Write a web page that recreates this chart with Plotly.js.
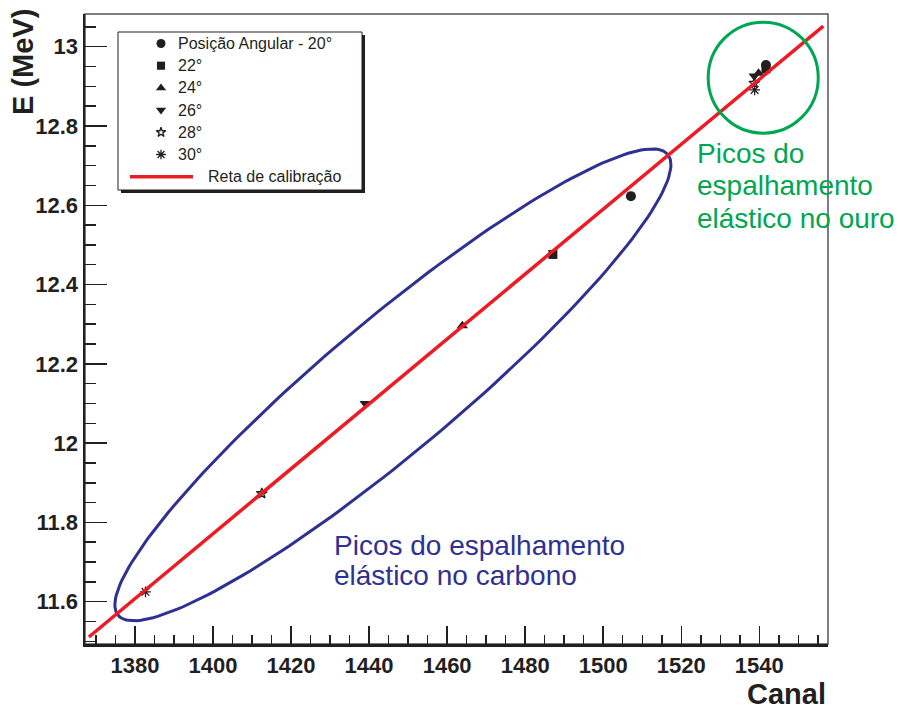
<!DOCTYPE html>
<html>
<head>
<meta charset="utf-8">
<script src="https://cdn.plot.ly/plotly-3.0.1.min.js"></script>
<style>html,body{margin:0;padding:0;background:#fff;}#chart{width:898px;height:709px;}</style>
</head>
<body>
<div id="chart"></div>
<script>
// ---- data ----
const seriesNames = ["Posição Angular - 20°", "22°", "24°", "26°", "28°", "30°"];
const seriesSymbols = ["circle", "square", "triangle-up", "triangle-down", "star-open", "asterisk-open"];
const seriesSizes = [10, 9, 10, 10, 8, 9];
// each series: [carbon peak, gold peak]
const canal20 = [1507.1, 1541.7];
const energy20 = [12.623, 12.954];
const canal22 = [1487.1, 1541.7];
const energy22 = [12.476, 12.944];
const canal24 = [1463.9, 1539.8];
const energy24 = [12.296, 12.933];
const canal26 = [1439.0, 1538.7];
const energy26 = [12.100, 12.926];
const canal28 = [1412.5, 1538.7];
const energy28 = [11.873, 12.908];
const canal30 = [1382.7, 1538.8];
const energy30 = [11.625, 12.891];
const seriesCanal = [canal20, canal22, canal24, canal26, canal28, canal30];
const seriesEnergy = [energy20, energy22, energy24, energy26, energy28, energy30];
// calibration line (end points)
const fitCanal = [1368.2, 1556.4];
const fitEnergy = [11.511, 13.052];
const fitName = "Reta de calibração";
// highlight ellipse around the carbon peaks (data units)
const ellipseCenter = [1446.1, 12.147];
const ellipseMajor = [70.41, 0.5813];
const ellipseMinor = [10.88, -0.1275];
// circle around the gold peaks (data units box)
const goldBoxCanal = [1526.9, 1555.1];
const goldBoxEnergy = [12.782, 13.062];

// axes
const xRange = [1367.2, 1557.6];
const yRange = [11.4933, 13.0825];
const xTickVals = [1380, 1400, 1420, 1440, 1460, 1480, 1500, 1520, 1540];
const xTickLabels = ["1380", "1400", "1420", "1440", "1460", "1480", "1500", "1520", "1540"];
const yTickVals = [11.6, 11.8, 12, 12.2, 12.4, 12.6, 12.8, 13];
const yTickLabels = ["11.6", "11.8", "12", "12.2", "12.4", "12.6", "12.8", "13"];

const BLUE = "#2e3192", GREEN = "#00a651", RED = "#ed1c24", INK = "#231f20";
const PW = 743, PH = 630, ML = 85, MT = 14;
const px = v => (v - ML) / PW;
const py = v => 1 - (v - MT) / PH;
const FONT = "Liberation Sans, Arial, Helvetica, sans-serif";

const traces = [];
// ellipse outline
const ex = [], ey = [];
for (let i = 0; i <= 200; i++) {
  const t = 2 * Math.PI * i / 200;
  ex.push(ellipseCenter[0] + ellipseMajor[0] * Math.cos(t) + ellipseMinor[0] * Math.sin(t));
  ey.push(ellipseCenter[1] + ellipseMajor[1] * Math.cos(t) + ellipseMinor[1] * Math.sin(t));
}
traces.push({x: ex, y: ey, mode: "lines", line: {color: BLUE, width: 3}, showlegend: false, hoverinfo: "skip"});

const markerStyle = (i, scale) => {
  const sym = seriesSymbols[i];
  const open = sym.endsWith("open");
  return {symbol: sym, size: seriesSizes[i] * scale, color: INK, line: {color: INK, width: open ? 1.3 : 0}};
};
seriesNames.forEach((n, i) => {
  traces.push({x: seriesCanal[i], y: seriesEnergy[i], name: n, mode: "markers",
    marker: markerStyle(i, 1), showlegend: false});
});
traces.push({x: fitCanal, y: fitEnergy, name: fitName, mode: "lines",
  line: {color: RED, width: 3.5}, showlegend: false});

// ---- legend (ROOT style box), drawn on a hidden pixel-unit overlay axis ----
const LEG = {left: 118, top: 32, right: 362, bottom: 190, row0: 43.5, rowStep: 22.2,
             keyX: 161, textX: 176, lineX: [130, 193], lineTextX: 206};
const legendAnn = [];
seriesNames.forEach((n, i) => {
  const yy = LEG.row0 + i * LEG.rowStep;
  traces.push({x: [LEG.keyX], y: [yy], xaxis: "x2", yaxis: "y2", mode: "markers",
    marker: markerStyle(i, 0.9), showlegend: false, hoverinfo: "skip"});
  legendAnn.push({text: n, xref: "paper", yref: "paper", x: px(LEG.textX), y: py(yy),
    showarrow: false, xanchor: "left", yanchor: "middle", font: {family: FONT, size: 16, color: INK}});
});
{
  const yy = LEG.row0 + seriesNames.length * LEG.rowStep;
  traces.push({x: LEG.lineX, y: [yy, yy], xaxis: "x2", yaxis: "y2", mode: "lines",
    line: {color: RED, width: 3.5}, showlegend: false, hoverinfo: "skip"});
  legendAnn.push({text: fitName, xref: "paper", yref: "paper", x: px(LEG.lineTextX), y: py(yy),
    showarrow: false, xanchor: "left", yanchor: "middle", font: {family: FONT, size: 16, color: INK}});
}

const layout = {
  width: 898, height: 709,
  margin: {l: 85, r: 70, t: 14, b: 65},
  paper_bgcolor: "#fff", plot_bgcolor: "#fff",
  font: {family: FONT, color: INK},
  showlegend: false,
  xaxis: {
    range: xRange, showgrid: false, zeroline: false,
    showline: true, linecolor: INK, linewidth: 2.5,
    ticks: "inside", ticklen: 18, tickwidth: 1.5, tickcolor: INK,
    tickmode: "array", tickvals: xTickVals, ticktext: xTickLabels.map(s => "<b>" + s + "</b>"),
    tickfont: {family: FONT, size: 22, color: INK},
    minor: {ticks: "inside", ticklen: 9, tickwidth: 1.5, tickcolor: INK, tickmode: "linear", dtick: 5, tick0: 1380},
    fixedrange: true
  },
  yaxis: {
    range: yRange, showgrid: false, zeroline: false,
    showline: true, linecolor: INK, linewidth: 2.5,
    ticks: "inside", ticklen: 22, tickwidth: 1.5, tickcolor: INK,
    tickmode: "array", tickvals: yTickVals, ticktext: yTickLabels.map(s => "<b>" + s + "</b>"),
    tickfont: {family: FONT, size: 22, color: INK},
    minor: {ticks: "inside", ticklen: 11, tickwidth: 1.5, tickcolor: INK, tickmode: "linear", dtick: 0.05, tick0: 11.6},
    fixedrange: true
  },
  xaxis2: {overlaying: "x", anchor: "y2", range: [ML, ML + PW], visible: false, fixedrange: true},
  yaxis2: {overlaying: "y", anchor: "x2", range: [MT + PH, MT], visible: false, fixedrange: true},
  shapes: [
    {type: "rect", xref: "paper", yref: "paper", x0: 0, x1: 1, y0: 0, y1: 1,
     line: {color: "#555", width: 1.5}, layer: "below"},
    {type: "rect", xref: "paper", yref: "paper", layer: "below",
     x0: px(LEG.left + 3), x1: px(LEG.right + 3), y0: py(LEG.bottom + 3), y1: py(LEG.top + 3),
     fillcolor: INK, line: {width: 0}},
    {type: "rect", xref: "paper", yref: "paper", layer: "below",
     x0: px(LEG.left), x1: px(LEG.right), y0: py(LEG.bottom), y1: py(LEG.top),
     fillcolor: "#fff", line: {color: INK, width: 1}},
    {type: "circle", xref: "x", yref: "y", x0: goldBoxCanal[0], x1: goldBoxCanal[1],
     y0: goldBoxEnergy[0], y1: goldBoxEnergy[1], line: {color: GREEN, width: 3}}
  ],
  annotations: legendAnn.concat([
    {text: "<b>E (MeV)</b>", xref: "paper", yref: "paper", x: 0, y: py(62), xshift: -62,
     textangle: -90, showarrow: false, xanchor: "center", yanchor: "middle",
     font: {family: FONT, size: 29, color: INK}},
    {text: "<b>Canal</b>", xref: "paper", yref: "paper", x: 1, y: py(694),
     showarrow: false, xanchor: "right", yanchor: "middle",
     font: {family: FONT, size: 29, color: INK}},
    {text: "Picos do espalhamento", xref: "paper", yref: "paper", x: px(332), y: py(545),
     showarrow: false, xanchor: "left", yanchor: "middle", font: {family: FONT, size: 28, color: BLUE}},
    {text: "elástico no carbono", xref: "paper", yref: "paper", x: px(332), y: py(575),
     showarrow: false, xanchor: "left", yanchor: "middle", font: {family: FONT, size: 28, color: BLUE}},
    {text: "Picos do", xref: "paper", yref: "paper", x: px(695), y: py(153),
     showarrow: false, xanchor: "left", yanchor: "middle", font: {family: FONT, size: 28, color: GREEN}},
    {text: "espalhamento", xref: "paper", yref: "paper", x: px(695), y: py(186),
     showarrow: false, xanchor: "left", yanchor: "middle", font: {family: FONT, size: 28, color: GREEN}},
    {text: "elástico no ouro", xref: "paper", yref: "paper", x: px(695), y: py(219),
     showarrow: false, xanchor: "left", yanchor: "middle", font: {family: FONT, size: 28, color: GREEN}}
  ])
};

Plotly.newPlot("chart", traces, layout, {displayModeBar: false, staticPlot: true});
</script>
</body>
</html>
